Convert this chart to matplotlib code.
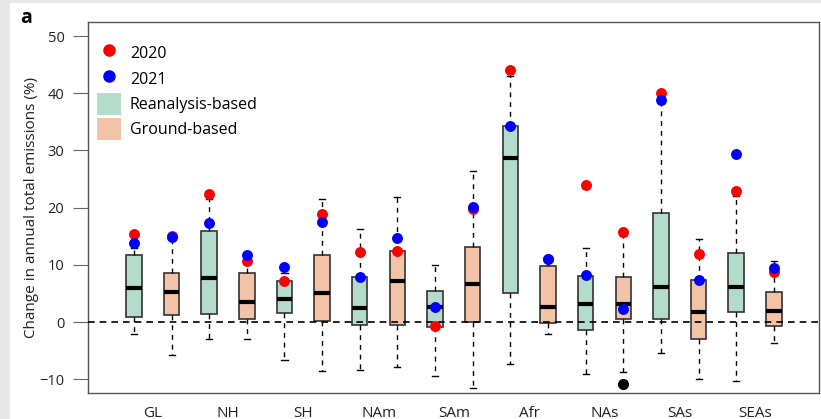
import matplotlib
matplotlib.use('Agg')
import matplotlib.pyplot as plt
from matplotlib.patches import Rectangle, Patch
from matplotlib.lines import Line2D

plt.rcParams['font.family'] = ['Open Sans', 'DejaVu Sans']

regions = ['GL', 'NH', 'SH', 'NAm', 'SAm', 'Afr', 'NAs', 'SAs', 'SEAs']

# per region: (reanalysis, ground) -> whislo, q1, med, q3, whishi
rean_whislo = [-2.0, -3.0, -6.6, -8.3, -9.5, -7.4, -9.1, -5.4, -10.3]
rean_q1 = [0.8, 1.4, 1.5, -0.5, -0.9, 5.0, -1.4, 0.5, 1.8]
rean_med = [5.9, 7.7, 4.0, 2.4, 2.7, 28.7, 3.2, 6.1, 6.2]
rean_q3 = [11.7, 15.9, 7.1, 7.8, 5.4, 34.3, 8.0, 19.1, 12.0]
rean_whishi = [13.0, 21.5, 8.5, 16.2, 9.9, 43.0, 12.9, 38.5, 22.0]

grnd_whislo = [-5.8, -3.0, -8.5, -7.9, -11.5, -2.1, -8.7, -9.9, -3.7]
grnd_q1 = [1.3, 0.5, 0.1, -0.5, 0.0, -0.2, 0.6, -3.0, -0.7]
grnd_med = [5.2, 3.5, 5.1, 7.2, 6.6, 2.7, 3.2, 1.7, 2.0]
grnd_q3 = [8.6, 8.6, 11.7, 12.5, 13.1, 9.8, 7.9, 7.3, 5.2]
grnd_whishi = [14.5, 10.2, 21.5, 21.9, 26.4, 10.6, 15.0, 14.6, 10.7]
grnd_outliers = [[], [], [], [], [], [], [-10.9], [], []]

# dots: 2020 (red) and 2021 (blue), in box order (rean, ground) per region
y2020 = [15.4, 15.0, 22.4, 10.6, 7.1, 18.9, 12.3, 12.4, -0.7, 19.7, 44.1, 11.1, 23.9, 15.7, 40.0, 11.9, 22.9, 8.7]
y2021 = [13.8, 14.9, 17.3, 11.8, 9.7, 17.5, 7.8, 14.7, 2.7, 20.1, 34.2, 11.1, 8.2, 2.2, 38.9, 7.3, 29.3, 9.4]

green = '#b3dccb'
orange = '#f3c3a7'

fig = plt.figure(figsize=(8.21, 4.19), dpi=100)
fig.patch.set_facecolor('#e6e7e8')
fig.add_artist(Rectangle((10 / 821, 0), 1, (419 - 3) / 419, transform=fig.transFigure,
                         facecolor='white', edgecolor='none', zorder=-5))
ax = fig.add_axes([88 / 821, 26 / 419, 731 / 821, 371 / 419])

stats = []
colors = []
for i in range(len(regions)):
    stats.append(dict(whislo=rean_whislo[i], q1=rean_q1[i], med=rean_med[i],
                      q3=rean_q3[i], whishi=rean_whishi[i], fliers=[]))
    colors.append(green)
    stats.append(dict(whislo=grnd_whislo[i], q1=grnd_q1[i], med=grnd_med[i],
                      q3=grnd_q3[i], whishi=grnd_whishi[i], fliers=grnd_outliers[i]))
    colors.append(orange)

positions = list(range(1, len(stats) + 1))
bp = ax.bxp(stats, positions=positions, widths=0.41, patch_artist=True,
            boxprops=dict(edgecolor='#333333', linewidth=1.2),
            medianprops=dict(color='black', linewidth=3, solid_capstyle='butt'),
            whiskerprops=dict(color='black', linestyle=(0, (3.5, 3.5)), linewidth=1),
            capprops=dict(color='black', linewidth=1),
            capwidths=0.16,
            flierprops=dict(marker='o', markerfacecolor='black', markeredgecolor='black',
                            markersize=7))
for box, c in zip(bp['boxes'], colors):
    box.set_facecolor(c)
    box.set_zorder(2)
for m in bp['medians']:
    m.set_zorder(3)

ax.axhline(0, color='black', linestyle=(0, (4, 3)), linewidth=1.2, zorder=4)

ax.scatter(positions, y2020, s=62, color='#ff0000', zorder=5, linewidths=0)
ax.scatter(positions, y2021, s=62, color='#0000ff', zorder=6, linewidths=0)

ax.set_xlim(-0.22, 19.2)
ax.set_ylim(-12.4, 52.45)
ax.set_yticks([-10, 0, 10, 20, 30, 40, 50])
ax.set_yticklabels(['\u221210', '0', '10', '20', '30', '40', '50'])
ax.set_xticks([p + 0.5 for p in positions[::2]])
ax.set_xticklabels(regions)
ax.tick_params(axis='x', length=0, pad=9, labelsize=11, labelcolor='#222222')
ax.tick_params(axis='y', length=11, width=0.8, color='#666666', pad=6,
               labelsize=10.5, labelcolor='#222222')
for s in ax.spines.values():
    s.set_color('#555555')
    s.set_linewidth(1)
ax.set_ylabel('Change in annual total emissions (%)', fontsize=11, color='#222222', labelpad=0)

handles = [
    Line2D([], [], marker='o', linestyle='none', color='#ff0000', markersize=8),
    Line2D([], [], marker='o', linestyle='none', color='#0000ff', markersize=8),
    Patch(facecolor=green, edgecolor='none'),
    Patch(facecolor=orange, edgecolor='none'),
]
ax.legend(handles, ['2020', '2021', 'Reanalysis-based', 'Ground-based'],
          loc='upper left', bbox_to_anchor=(-0.005, 0.98), frameon=False, fontsize=11.5,
          handlelength=1.5, handleheight=1.75, handletextpad=0.55, labelspacing=0.2,
          borderaxespad=0.4)

fig.text(20 / 821, 1 - 8 / 419, 'a', fontsize=14, fontweight='bold', va='top', ha='left')

fig.savefig('out.png', dpi=100)
